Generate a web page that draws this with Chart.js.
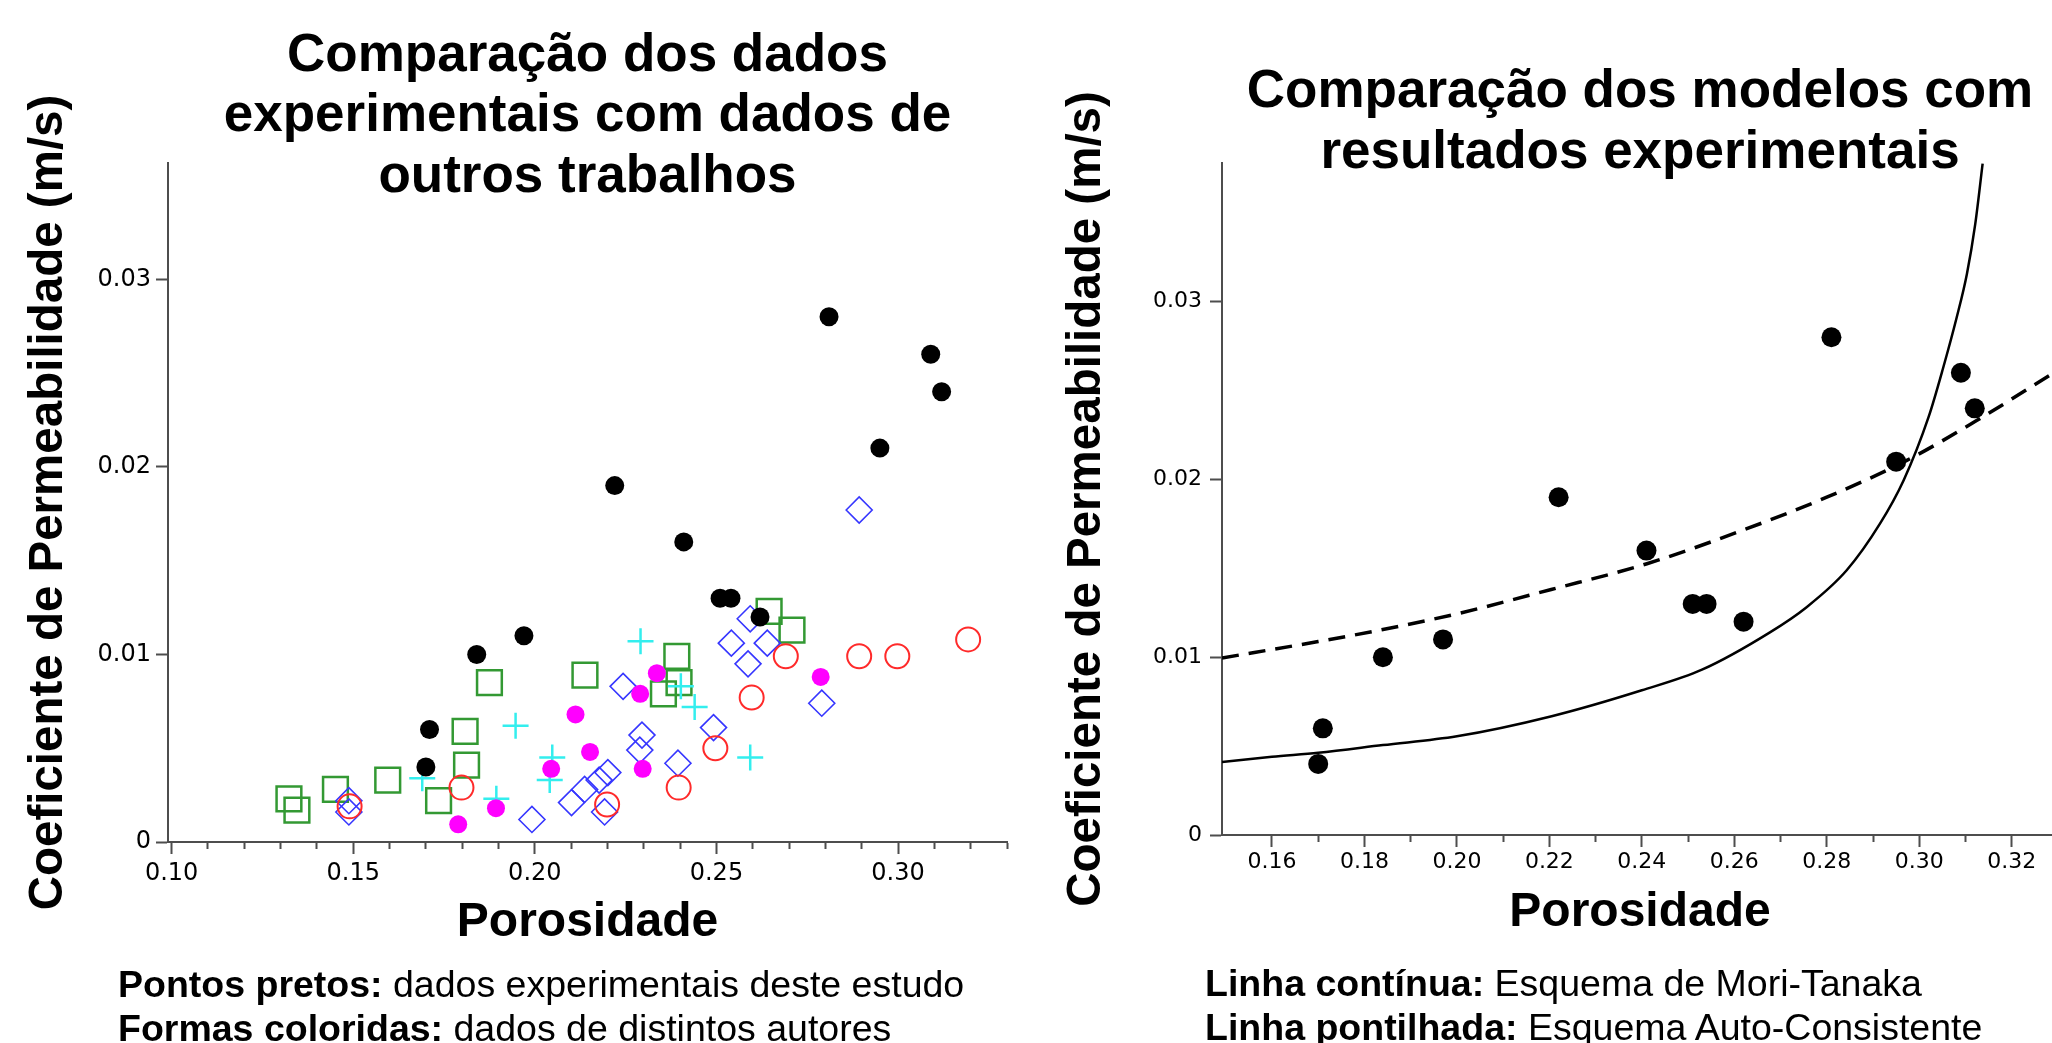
<!DOCTYPE html>
<html>
<head>
<meta charset="utf-8">
<script src="https://cdn.jsdelivr.net/npm/chart.js@4.4.0/dist/chart.umd.min.js"></script>
<style>
  html, body { margin: 0; padding: 0; background: #fff; overflow: hidden; width: 2052px; height: 1043px; }
  canvas { position: absolute; top: 0; }
  #leftChart { left: 0; }
  #rightChart { left: 1030px; }
  .note { position: absolute; font-family: "Liberation Sans", Arial, sans-serif; font-size: 37.5px; line-height: 44px; color: #000; white-space: nowrap; }
</style>
</head>
<body>
<canvas id="leftChart" width="1030" height="1043"></canvas>
<canvas id="rightChart" width="1040" height="1043"></canvas>
<div class="note" style="left:118px; top:962px;"><b>Pontos pretos:</b> dados experimentais deste estudo<br><b>Formas coloridas:</b> dados de distintos autores</div>
<div class="note" style="left:1205px; top:961px;"><b>Linha contínua:</b> Esquema de Mori-Tanaka<br><b>Linha pontilhada:</b> Esquema Auto-Consistente</div>
<script>
// dados deste estudo (pontos pretos)
const estudoX = [0.170, 0.171, 0.184, 0.197, 0.222, 0.241, 0.251, 0.254, 0.262, 0.281, 0.295, 0.309, 0.312];
const estudoY = [0.0040, 0.0060, 0.0100, 0.0110, 0.0190, 0.0160, 0.0130, 0.0130, 0.0120, 0.0280, 0.0210, 0.0260, 0.0240];

// dados de outros autores
const verdeX = [0.1323, 0.1345, 0.1451, 0.1595, 0.1735, 0.1812, 0.1808, 0.1875, 0.2138, 0.2354, 0.2397, 0.2391, 0.2645, 0.2708];
const verdeY = [0.0023, 0.0017, 0.0028, 0.0033, 0.0022, 0.0041, 0.0059, 0.0085, 0.0089, 0.0079, 0.0085, 0.0099, 0.0123, 0.0113];

const azulX = [0.1488, 0.1488, 0.1992, 0.2101, 0.2137, 0.2177, 0.2201, 0.2192, 0.2243, 0.2289, 0.2295, 0.2394, 0.2492, 0.2541, 0.2587, 0.2593, 0.2640, 0.2790, 0.2893];
const azulY = [0.0022, 0.0016, 0.0012, 0.0021, 0.0028, 0.0033, 0.0037, 0.0016, 0.0083, 0.0049, 0.0057, 0.0042, 0.0061, 0.0106, 0.0095, 0.0119, 0.0106, 0.0074, 0.0177];

const vermelhoX = [0.1490, 0.1798, 0.2199, 0.2396, 0.2497, 0.2597, 0.2691, 0.2893, 0.2998, 0.3193];
const vermelhoY = [0.0019, 0.0029, 0.0020, 0.0029, 0.0050, 0.0077, 0.0099, 0.0099, 0.0099, 0.0108];

const magentaX = [0.1789, 0.1893, 0.2045, 0.2112, 0.2152, 0.2290, 0.2297, 0.2336, 0.2787];
const magentaY = [0.00094, 0.0018, 0.0039, 0.0068, 0.0048, 0.0079, 0.0039, 0.0090, 0.0088];

const cianoX = [0.1690, 0.1894, 0.1947, 0.2041, 0.2048, 0.2291, 0.2402, 0.2440, 0.2593];
const cianoY = [0.0034, 0.0023, 0.0062, 0.0033, 0.0045, 0.0107, 0.0083, 0.0072, 0.0045];

// modelos
const moriTanakaX = [0.1492, 0.160, 0.170, 0.184, 0.200, 0.2205, 0.240, 0.253, 0.2677, 0.2757, 0.2843, 0.2915, 0.2966, 0.3020, 0.3052, 0.3081, 0.3103, 0.3121, 0.3137];
const moriTanakaY = [0.0041, 0.0044, 0.00463, 0.00506, 0.00555, 0.00668, 0.00814, 0.0093, 0.0114, 0.01283, 0.01489, 0.01751, 0.01994, 0.0235, 0.02631, 0.02912, 0.03156, 0.03436, 0.03777];

const autoConsX = [0.1492, 0.170, 0.184, 0.200, 0.2204, 0.2411, 0.2627, 0.280, 0.2973, 0.3124, 0.3287];
const autoConsY = [0.00996, 0.01088, 0.01156, 0.01244, 0.01381, 0.01526, 0.01723, 0.0190, 0.02107, 0.02331, 0.02594];

// ticks
const esqXTicks = [0.10, 0.11, 0.12, 0.13, 0.14, 0.15, 0.16, 0.17, 0.18, 0.19, 0.20, 0.21, 0.22, 0.23, 0.24, 0.25, 0.26, 0.27, 0.28, 0.29, 0.30, 0.31, 0.32, 0.33];
const esqXLabels = ['0.10', '', '', '', '', '0.15', '', '', '', '', '0.20', '', '', '', '', '0.25', '', '', '', '', '0.30', '', '', ''];
const dirXTicks = [0.16, 0.17, 0.18, 0.19, 0.20, 0.21, 0.22, 0.23, 0.24, 0.25, 0.26, 0.27, 0.28, 0.29, 0.30, 0.31, 0.32, 0.33];
const dirXLabels = ['0.16', '', '0.18', '', '0.20', '', '0.22', '', '0.24', '', '0.26', '', '0.28', '', '0.30', '', '0.32', ''];
const yTicks = [0, 0.005, 0.01, 0.015, 0.02, 0.025, 0.03, 0.035];
const yLabels = ['0', '', '0.01', '', '0.02', '', '0.03', ''];

const pts = (xs, ys) => xs.map((x, i) => ({x: x, y: ys[i]}));

const eixoCor = '#4d4d4d';

// ticks menores mais curtos (metade do comprimento)
function gridOpts(vertical) {
    return {
        drawOnChartArea: false,
        tickLength: 12,
        tickWidth: 2,
        tickColor: eixoCor,
        tickBorderDash: (ctx) => (ctx.tick && ctx.tick.label === '') ? [6, 20] : [],
        tickBorderDashOffset: (ctx) => (vertical && ctx.tick && ctx.tick.label === '') ? 6 : 0
    };
}

function xScale(min, max, ticks, labels, fontSize, tickPad, titlePad) {
    return {
        type: 'linear', min: min, max: max,
        afterBuildTicks: (axis) => { axis.ticks = ticks.map(v => ({value: v})); },
        afterFit: (scale) => { scale.height = 120; },
        border: {color: eixoCor, width: 2},
        grid: gridOpts(false),
        ticks: {
            autoSkip: false, maxRotation: 0, padding: tickPad, color: '#000',
            font: {family: 'DejaVu Sans', size: fontSize},
            callback: (v, i) => labels[i]
        },
        title: {
            display: true, text: 'Porosidade', color: '#000',
            font: {family: 'Liberation Sans', weight: 'bold', size: 48},
            padding: {top: 0, bottom: titlePad}
        }
    };
}

function yScale(max, width, fontSize, tickPad, titlePad) {
    return {
        type: 'linear', min: 0, max: max,
        afterBuildTicks: (axis) => { axis.ticks = yTicks.map(v => ({value: v})); },
        afterFit: (scale) => { scale.width = width; },
        border: {color: eixoCor, width: 2},
        grid: gridOpts(true),
        ticks: {
            autoSkip: false, padding: tickPad, color: '#000',
            font: {family: 'DejaVu Sans', size: fontSize},
            callback: (v, i) => yLabels[i]
        },
        title: {
            display: true, text: 'Coeficiente de Permeabilidade (m/s)', color: '#000',
            font: {family: 'Liberation Sans', weight: 'bold', size: 47.5},
            padding: {top: titlePad, bottom: 0}
        }
    };
}

function hollow(label, xs, ys, style, color, radius, width) {
    return {
        label: label, data: pts(xs, ys), pointStyle: style, pointRadius: radius,
        pointBackgroundColor: 'rgba(0,0,0,0)', pointBorderColor: color, pointBorderWidth: width
    };
}

new Chart(document.getElementById('leftChart'), {
    type: 'scatter',
    data: {
        datasets: [
            {label: 'Este estudo', data: pts(estudoX, estudoY), pointStyle: 'circle', pointRadius: 9.5,
             pointBackgroundColor: '#000', pointBorderColor: '#000', pointBorderWidth: 0},
            {label: 'Magenta', data: pts(magentaX, magentaY), pointStyle: 'circle', pointRadius: 9,
             pointBackgroundColor: '#ff00ff', pointBorderColor: '#ff00ff', pointBorderWidth: 0},
            hollow('Vermelho', vermelhoX, vermelhoY, 'circle', '#ff2a2a', 12, 2),
            hollow('Ciano', cianoX, cianoY, 'cross', '#33eeee', 13, 2.5),
            hollow('Azul', azulX, azulY, 'rectRot', '#3636ff', 13, 1.6),
            hollow('Verde', verdeX, verdeY, 'rect', '#339933', 17.5, 2.5)
        ]
    },
    options: {
        responsive: false,
        animation: false,
        layout: {padding: {left: 0, right: 23, top: 0, bottom: 81}},
        plugins: {
            legend: {display: false},
            tooltip: {enabled: false},
            title: {
                display: true, fullSize: false, color: '#000',
                text: ['Comparação dos dados', 'experimentais com dados de', 'outros trabalhos'],
                font: {family: 'Liberation Sans', weight: 'bold', size: 53, lineHeight: '60.5px'},
                padding: {top: 26, bottom: -44.5}
            }
        },
        scales: {
            x: xScale(0.099, 0.33, esqXTicks, esqXLabels, 24, 5, 10),
            y: yScale(0.0362, 168, 24, 5, 20)
        }
    }
});

new Chart(document.getElementById('rightChart'), {
    type: 'scatter',
    data: {
        datasets: [
            {label: 'Experimental', data: pts(estudoX, estudoY), pointStyle: 'circle', pointRadius: 10,
             pointBackgroundColor: '#000', pointBorderColor: '#000', pointBorderWidth: 0},
            {label: 'Mori-Tanaka', data: pts(moriTanakaX, moriTanakaY), showLine: true, pointRadius: 0,
             borderColor: '#000', borderWidth: 2.5, cubicInterpolationMode: 'monotone'},
            {label: 'Auto-Consistente', data: pts(autoConsX, autoConsY), showLine: true, pointRadius: 0,
             borderColor: '#000', borderWidth: 3.5, borderDash: [17, 10], cubicInterpolationMode: 'monotone'}
        ]
    },
    options: {
        responsive: false,
        animation: false,
        layout: {padding: {left: 0, right: 12, top: 0, bottom: 88}},
        plugins: {
            legend: {display: false},
            tooltip: {enabled: false},
            title: {
                display: true, fullSize: false, color: '#000',
                text: ['Comparação dos modelos com', 'resultados experimentais'],
                font: {family: 'Liberation Sans', weight: 'bold', size: 53, lineHeight: '61px'},
                padding: {top: 61.5, bottom: -20.5}
            }
        },
        scales: {
            x: xScale(0.1492, 0.33, dirXTicks, dirXLabels, 22, 2, 13),
            y: yScale(0.0378, 192, 22, 8, 28)
        }
    }
});
</script>
</body>
</html>
